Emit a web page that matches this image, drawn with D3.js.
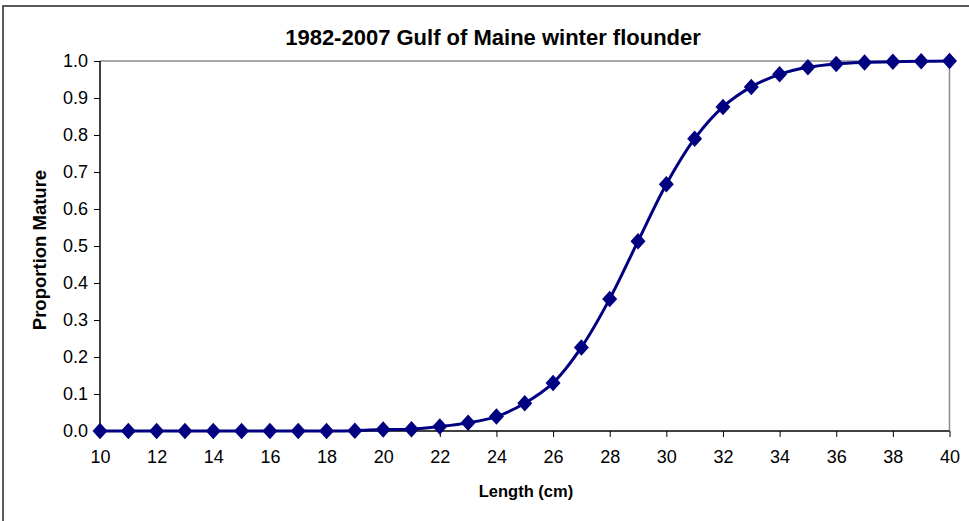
<!DOCTYPE html>
<html>
<head>
<meta charset="utf-8">
<script src="https://cdn.jsdelivr.net/npm/d3@7"></script>
<style>
  html, body { margin: 0; padding: 0; background: #fff; }
  svg { display: block; }
  text { font-family: "Liberation Sans", Arial, sans-serif; fill: #000; }
</style>
</head>
<body>
<svg id="chart" width="969" height="521"></svg>
<script>
// Maturity-at-length ogive, 1982-2007 Gulf of Maine winter flounder
const lengths = [10, 11, 12, 13, 14, 15, 16, 17, 18, 19, 20, 21, 22, 23, 24, 25,
                 26, 27, 28, 29, 30, 31, 32, 33, 34, 35, 36, 37, 38, 39, 40];
const proportionMature = [0, 0, 0, 0, 0, 0, 0, 0, 0, 0.001, 0.004, 0.005, 0.012, 0.022,
                          0.039, 0.075, 0.13, 0.226, 0.357, 0.513, 0.667, 0.79, 0.876,
                          0.93, 0.964, 0.983, 0.992, 0.996, 0.998, 0.999, 1.0];
const xTickValues = [10, 12, 14, 16, 18, 20, 22, 24, 26, 28, 30, 32, 34, 36, 38, 40];
const yTickValues = [0, 0.1, 0.2, 0.3, 0.4, 0.5, 0.6, 0.7, 0.8, 0.9, 1.0];

const titleText = "1982-2007 Gulf of Maine winter flounder";
const xTitle = "Length (cm)";
const yTitle = "Proportion Mature";

const svg = d3.select("#chart");
const W = 969, H = 521;
const plot = { left: 100, right: 949.5, top: 61, bottom: 431 };
const navy = "#000080";

// outer chart frame
svg.append("rect")
  .attr("x", 3).attr("y", 6)
  .attr("width", W + 20).attr("height", H + 20)
  .attr("fill", "#fff")
  .attr("stroke", "#333").attr("stroke-width", 1.6);

const x = d3.scaleLinear().domain([10, 40]).range([plot.left, plot.right]);
const y = d3.scaleLinear().domain([0, 1]).range([plot.bottom, plot.top]);

// plot area: gray top/right edges
svg.append("path")
  .attr("d", `M${plot.left},${plot.top}H${plot.right}V${plot.bottom}`)
  .attr("fill", "none").attr("stroke", "#8c8c8c").attr("stroke-width", 1.5);

// axes
const yAxis = d3.axisLeft(y).tickValues(yTickValues)
  .tickFormat(d3.format(".1f")).tickSize(6).tickPadding(6);
const gy = svg.append("g").attr("transform", `translate(${plot.left},0)`).call(yAxis);

const xAxis = d3.axisBottom(x).tickValues(xTickValues)
  .tickFormat(d3.format("d")).tickSize(6).tickPadding(13);
const gx = svg.append("g").attr("transform", `translate(0,${plot.bottom})`).call(xAxis);

[gx, gy].forEach(g => {
  g.select(".domain").attr("stroke", "#000").attr("stroke-width", 1.5);
  g.selectAll(".tick line").attr("stroke", "#000").attr("stroke-width", 1);
  g.selectAll(".tick text")
    .attr("font-family", "'Liberation Sans', Arial, sans-serif")
    .attr("font-size", 18).attr("fill", "#000");
});
gy.select(".domain").attr("d", `M0,${plot.bottom}V${plot.top}`);
gx.select(".domain").attr("d", `M${plot.left},0H${plot.right}`);

// smoothed line and diamond markers
const pts = lengths.map((L, i) => [L, proportionMature[i]]);
const line = d3.line()
  .x(d => x(d[0])).y(d => y(d[1]))
  .curve(d3.curveCatmullRom.alpha(0.5));

svg.append("path")
  .datum(pts)
  .attr("d", line)
  .attr("fill", "none")
  .attr("stroke", navy)
  .attr("stroke-width", 3);

// diamond marker, slightly taller than wide
const diamondType = {
  draw(ctx, size) {
    const hw = Math.sqrt(size) / 2, hh = hw * 1.1;
    ctx.moveTo(0, -hh);
    ctx.lineTo(hw, 0);
    ctx.lineTo(0, hh);
    ctx.lineTo(-hw, 0);
    ctx.closePath();
  }
};
const diamond = d3.symbol().type(diamondType).size(225);
svg.append("g").selectAll("path")
  .data(pts)
  .join("path")
  .attr("d", diamond)
  .attr("transform", d => `translate(${x(d[0])},${y(d[1])})`)
  .attr("fill", navy);

// titles
svg.append("text")
  .attr("x", 493).attr("y", 45)
  .attr("text-anchor", "middle")
  .attr("font-size", 22).attr("font-weight", "bold")
  .text(titleText);

svg.append("text")
  .attr("x", 526).attr("y", 497)
  .attr("text-anchor", "middle")
  .attr("font-size", 16.5).attr("font-weight", "bold")
  .text(xTitle);

svg.append("text")
  .attr("transform", `translate(46,250) rotate(-90)`)
  .attr("text-anchor", "middle")
  .attr("font-size", 18.5).attr("font-weight", "bold")
  .text(yTitle);
</script>
</body>
</html>
